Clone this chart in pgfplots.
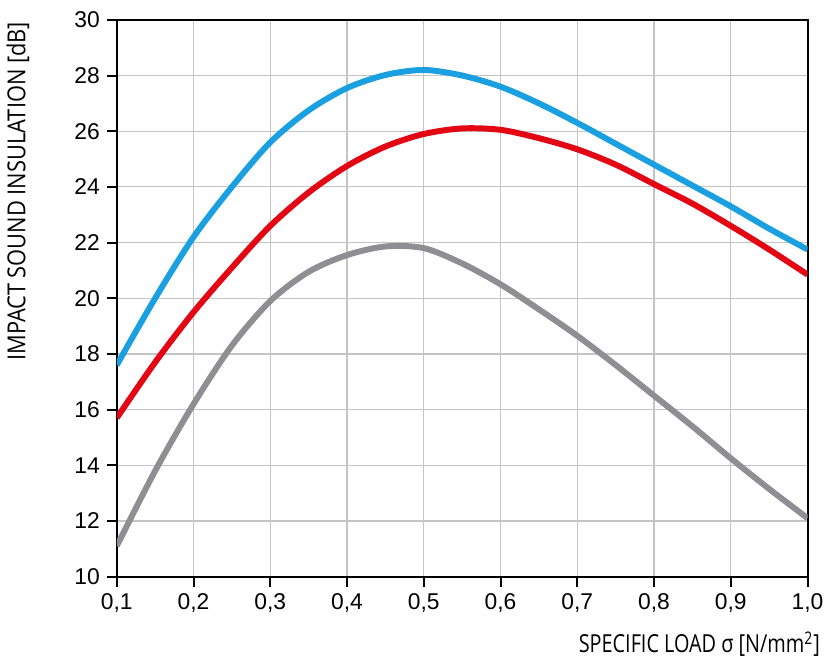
\documentclass[border=0pt]{standalone}
\usepackage{fontspec}
\setmainfont{Liberation Sans}
\newfontfamily\xlabelfont{Open Sans}[FakeStretch=0.8]
\newfontfamily\ylabelfont{Open Sans}[FakeStretch=0.88]
\usepackage{pgfplots}
\pgfplotsset{compat=1.18}

\definecolor{lineblue}{HTML}{1AA0E0}
\definecolor{linered}{HTML}{E30613}
\definecolor{linegray}{HTML}{8E8E93}
\definecolor{gridgray}{HTML}{C4C4C4}

\begin{document}
\begin{tikzpicture}
\begin{axis}[
  scale only axis,
  width=348pt, height=280.5pt,
  xmin=0.1, xmax=1.0, ymin=10, ymax=30,
  xtick={0.1,0.2,0.3,0.4,0.5,0.6,0.7,0.8,0.9,1.0},
  ytick={10,12,14,16,18,20,22,24,26,28,30},
  xticklabel style={/pgf/number format/.cd, fixed, fixed zerofill, precision=1, use comma},
  /pgf/number format/assume math mode=true,
  tick align=outside, major tick length=5pt,
  xtick pos=bottom, ytick pos=left,
  tick style={black, line width=1pt},
  axis line style={black, line width=1pt},
  grid=major,
  major grid style={gridgray, line width=0.6pt},
  ticklabel style={font=\fontsize{11.5}{13}\selectfont},
  xlabel={\xlabelfont SPECIFIC LOAD σ [N/mm\textsuperscript{2}]},
  ylabel={\ylabelfont IMPACT SOUND INSULATION [dB]},
  label style={font=\fontsize{12.5}{14}\selectfont},
  xlabel style={at={(axis description cs:1.028,0)}, anchor=east, yshift=-34pt},
  ylabel style={at={(axis description cs:-0.1164,1.009)}, anchor=south east},
]
\addplot[lineblue, line width=3pt, smooth] coordinates {
  (0.10,17.6) (0.15,20.0) (0.20,22.2) (0.25,24.0) (0.30,25.6) (0.35,26.75)
  (0.40,27.55) (0.45,28.02) (0.50,28.2) (0.55,28.0) (0.60,27.6) (0.65,27.0)
  (0.70,26.3) (0.75,25.55) (0.80,24.8) (0.85,24.05) (0.90,23.3) (0.95,22.5)
  (1.00,21.75)
};
\addplot[linered, line width=3pt, smooth] coordinates {
  (0.10,15.7) (0.15,17.7) (0.20,19.5) (0.25,21.1) (0.30,22.6) (0.35,23.8)
  (0.40,24.75) (0.45,25.45) (0.50,25.9) (0.55,26.1) (0.60,26.05) (0.65,25.75)
  (0.70,25.35) (0.75,24.8) (0.80,24.1) (0.85,23.4) (0.90,22.6) (0.95,21.75)
  (1.00,20.85)
};
\addplot[linegray, line width=3pt, smooth] coordinates {
  (0.10,11.1) (0.15,13.8) (0.20,16.2) (0.25,18.3) (0.30,19.9) (0.35,20.95)
  (0.40,21.55) (0.45,21.86) (0.50,21.8) (0.55,21.25) (0.60,20.5) (0.65,19.6)
  (0.70,18.65) (0.75,17.6) (0.80,16.5) (0.85,15.4) (0.90,14.25) (0.95,13.15)
  (1.00,12.1)
};
\end{axis}
% page frame matching the reference margins
\path ([xshift=-57.5pt,yshift=-41.5pt]current axis.south west)
  rectangle ([xshift=9.5pt,yshift=10pt]current axis.north east);
\end{tikzpicture}
\end{document}
